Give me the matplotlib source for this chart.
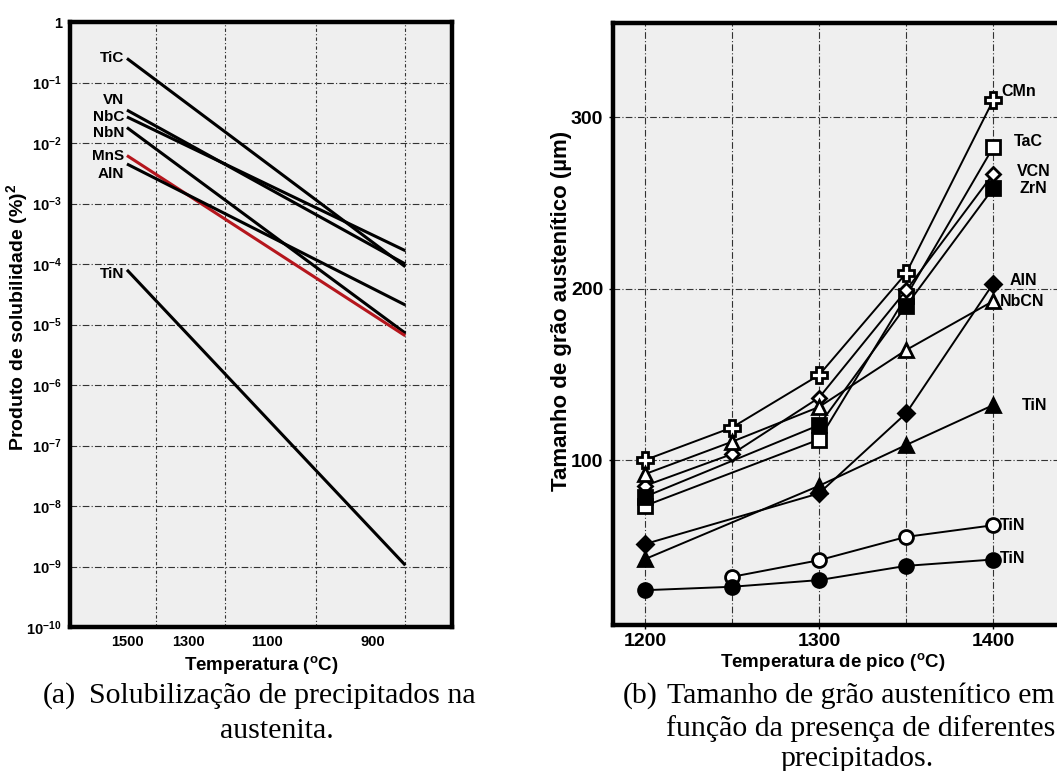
import numpy as np
import matplotlib
matplotlib.use("Agg")
import matplotlib.pyplot as plt
from matplotlib.ticker import FixedLocator, NullFormatter

plt.rcParams["font.family"] = ["Liberation Sans", "DejaVu Sans"]
plt.rcParams["font.weight"] = "bold"
plt.rcParams["mathtext.fontset"] = "custom"
plt.rcParams["mathtext.rm"] = "Liberation Sans:bold"
plt.rcParams["mathtext.bf"] = "Liberation Sans:bold"
plt.rcParams["mathtext.it"] = "Liberation Sans:bold"
plt.rcParams["mathtext.default"] = "bf"

# (a) produtos de solubilidade: inicio em 1500 C, fim em 850 C
precip = ["TiC", "VN", "NbC", "NbN", "MnS", "AlN", "TiN"]
temp_ini = 1500
temp_fim = 850
ks_ini = [2.5e-1, 3.5e-2, 2.7e-2, 1.8e-2, 6.2e-3, 4.5e-3, 8.0e-5]
ks_fim = [9.0e-5, 1.0e-4, 1.66e-4, 7.2e-6, 6.5e-6, 2.1e-5, 1.05e-9]
cores_a = ["black", "black", "black", "black", "#b5161d", "black", "black"]
# deslocamento vertical dos rotulos (pontos)
desl_a = [0, 7, 0, -4, 0, -7, -3]

temp_ticks = [1500, 1300, 1100, 900]
temp_grid = [1500, 1400, 1300, 1200, 1100, 1000, 900, 850]

# (b) tamanho de grao austenitico
temp_pico = [1200, 1250, 1300, 1350, 1400]
series_b = {
    "CMn": [100, 119, 149.6, 209, 310],
    "TaC": [73.3, None, 112, 195.5, 282.5],
    "VCN": [85, 103.5, 136.4, 199, 267],
    "ZrN": [78.6, None, 120.4, 190, 258.6],
    "AlN": [51, None, 80.6, 127.3, 203],
    "NbCN": [91.8, 110.7, 131, 164.2, 192.8],
    "TiN_1": [42.2, None, 85, 108.8, 132.1],
    "TiN_2": [None, 31.9, 41.6, 55.2, 62],
    "TiN_3": [24.1, 26.1, 30, 38.3, 42],
}
rotulos_b = ["CMn", "TaC", "VCN", "ZrN", "AlN", "NbCN", "TiN", "TiN", "TiN"]
marcadores = ["P", "s", "D", "s", "D", "^", "^", "o", "o"]
preenchido = [False, False, False, True, True, False, True, False, True]
tamanhos = [11, 10, 7.5, 10, 8.5, 10, 10, 10, 10]
desl_b = [(6, 6), (15, 4), (17, 2), (19, 0), (12, 2), (5, 0), (21, 0), (5, 0), (5, 1)]


def inv_t(t):
    return 1e4 / (np.asarray(t, dtype=float) + 273.15)


fig = plt.figure(figsize=(10.57, 7.71), dpi=100)
W, H = 1057, 771

fundo = "#efefef"
grade = dict(color="#333333", linewidth=0.8)

# ---------------- (a) ----------------
ax1 = fig.add_axes([70 / W, 1 - 627 / H, (452 - 70) / W, (627 - 22) / H])
ax1.set_facecolor(fundo)
for nome, k0, k1, cor, dy in zip(precip, ks_ini, ks_fim, cores_a, desl_a):
    ax1.plot(inv_t([temp_ini, temp_fim]), [k0, k1], color=cor, lw=2.2,
             solid_capstyle="butt", zorder=3)
    ax1.annotate(nome, (inv_t(temp_ini), k0), xytext=(-2, dy),
                 textcoords="offset points", ha="right", va="center",
                 fontsize=11, fontweight="bold")
ax1.set_yscale("log")
ax1.set_ylim(1e-10, 1)
ax1.set_xlim(4.972, 9.451)
ax1.xaxis.set_major_locator(FixedLocator(inv_t(temp_ticks)))
ax1.set_xticklabels([str(t) for t in temp_ticks])
ax1.xaxis.set_minor_locator(FixedLocator(inv_t(temp_grid)))
ax1.xaxis.set_minor_formatter(NullFormatter())
dec = list(range(-10, 1))
ax1.yaxis.set_major_locator(FixedLocator([10.0 ** d for d in dec]))
ax1.set_yticklabels(["1" if d == 0 else "10$^{%d}$" % d for d in dec])
ax1.yaxis.set_minor_locator(FixedLocator([]))
ax1.tick_params(axis="both", which="both", length=0, labelsize=10.5, pad=6)
ax1.grid(True, axis="y", which="major", linestyle=(0, (6, 2, 1, 2)), **grade)
ax1.grid(True, axis="x", which="minor", linestyle=(0, (3, 2, 1, 2)), **grade)
for s in ax1.spines.values():
    s.set_linewidth(3.2)
ax1.set_xlabel("Temperatura ($^{o}$C)", fontsize=13.5, fontweight="bold")
ax1.xaxis.set_label_coords(0.5, -(654 - 627) / 605)
ax1.set_ylabel("Produto de solubilidade (%)$^{2}$", fontsize=14, fontweight="bold")
ax1.yaxis.set_label_coords(-(70 - 30) / 382, (627 - 317) / 605)

# ---------------- (b) ----------------
ax2 = fig.add_axes([613 / W, 1 - 625 / H, (1062 - 613) / W, (625 - 23) / H])
ax2.set_facecolor(fundo)
for (chave, vals), rot, mk, fill, ms, (dx, dy) in zip(series_b.items(), rotulos_b,
                                                     marcadores, preenchido, tamanhos, desl_b):
    x = [t for t, v in zip(temp_pico, vals) if v is not None]
    y = [v for v in vals if v is not None]
    ax2.plot(x, y, color="black", lw=1.4, marker=mk, ms=ms,
             mfc="black" if fill else "white", mec="black", mew=2, zorder=3)
    ax2.annotate(rot, (x[-1], y[-1]), xytext=(dx, dy), textcoords="offset points",
                 ha="left", va="center", fontsize=11.5, fontweight="bold")
ax2.set_xlim(1181.7, 1439.5)
ax2.set_ylim(3.8, 355)
ax2.set_xticks([1200, 1300, 1400])
ax2.set_xticks([1250, 1350], minor=True)
ax2.set_yticks([100, 200, 300])
ax2.tick_params(axis="both", which="major", length=3, width=1, labelsize=14, pad=4)
ax2.tick_params(axis="x", which="major", pad=3)
ax2.tick_params(axis="x", which="minor", length=0)
ax2.grid(True, which="both", linestyle=(0, (6, 2, 1, 2)), **grade)
for s in ax2.spines.values():
    s.set_linewidth(3.2)
ax2.set_xlabel("Temperatura de pico ($^{o}$C)", fontsize=13.5, fontweight="bold")
ax2.xaxis.set_label_coords((833 - 613) / 449, -(651 - 625) / 602)
ax2.set_ylabel("Tamanho de grão austenítico (µm)", fontsize=16, fontweight="bold")
ax2.yaxis.set_label_coords(-(613 - 572) / 449, (625 - 311) / 602)

# ---------------- legendas das figuras ----------------
serif = dict(family="Liberation Serif", fontweight="normal", fontsize=21.5)
fig.text(43 / W, 1 - 703 / H, "(a)", ha="left", va="baseline", **serif)
fig.text(282 / W, 1 - 703 / H, "Solubilização de precipitados na", ha="center", va="baseline", **serif)
fig.text(277 / W, 1 - 738 / H, "austenita.", ha="center", va="baseline", **serif)
fig.text(623 / W, 1 - 703 / H, "(b)", ha="left", va="baseline", **serif)
fig.text(861 / W, 1 - 703 / H, "Tamanho de grão austenítico em", ha="center", va="baseline", **serif)
fig.text(861 / W, 1 - 736 / H, "função da presença de diferentes", ha="center", va="baseline", **serif)
fig.text(857 / W, 1 - 766 / H, "precipitados.", ha="center", va="baseline", **serif)

fig.savefig("out.png", dpi=100)
